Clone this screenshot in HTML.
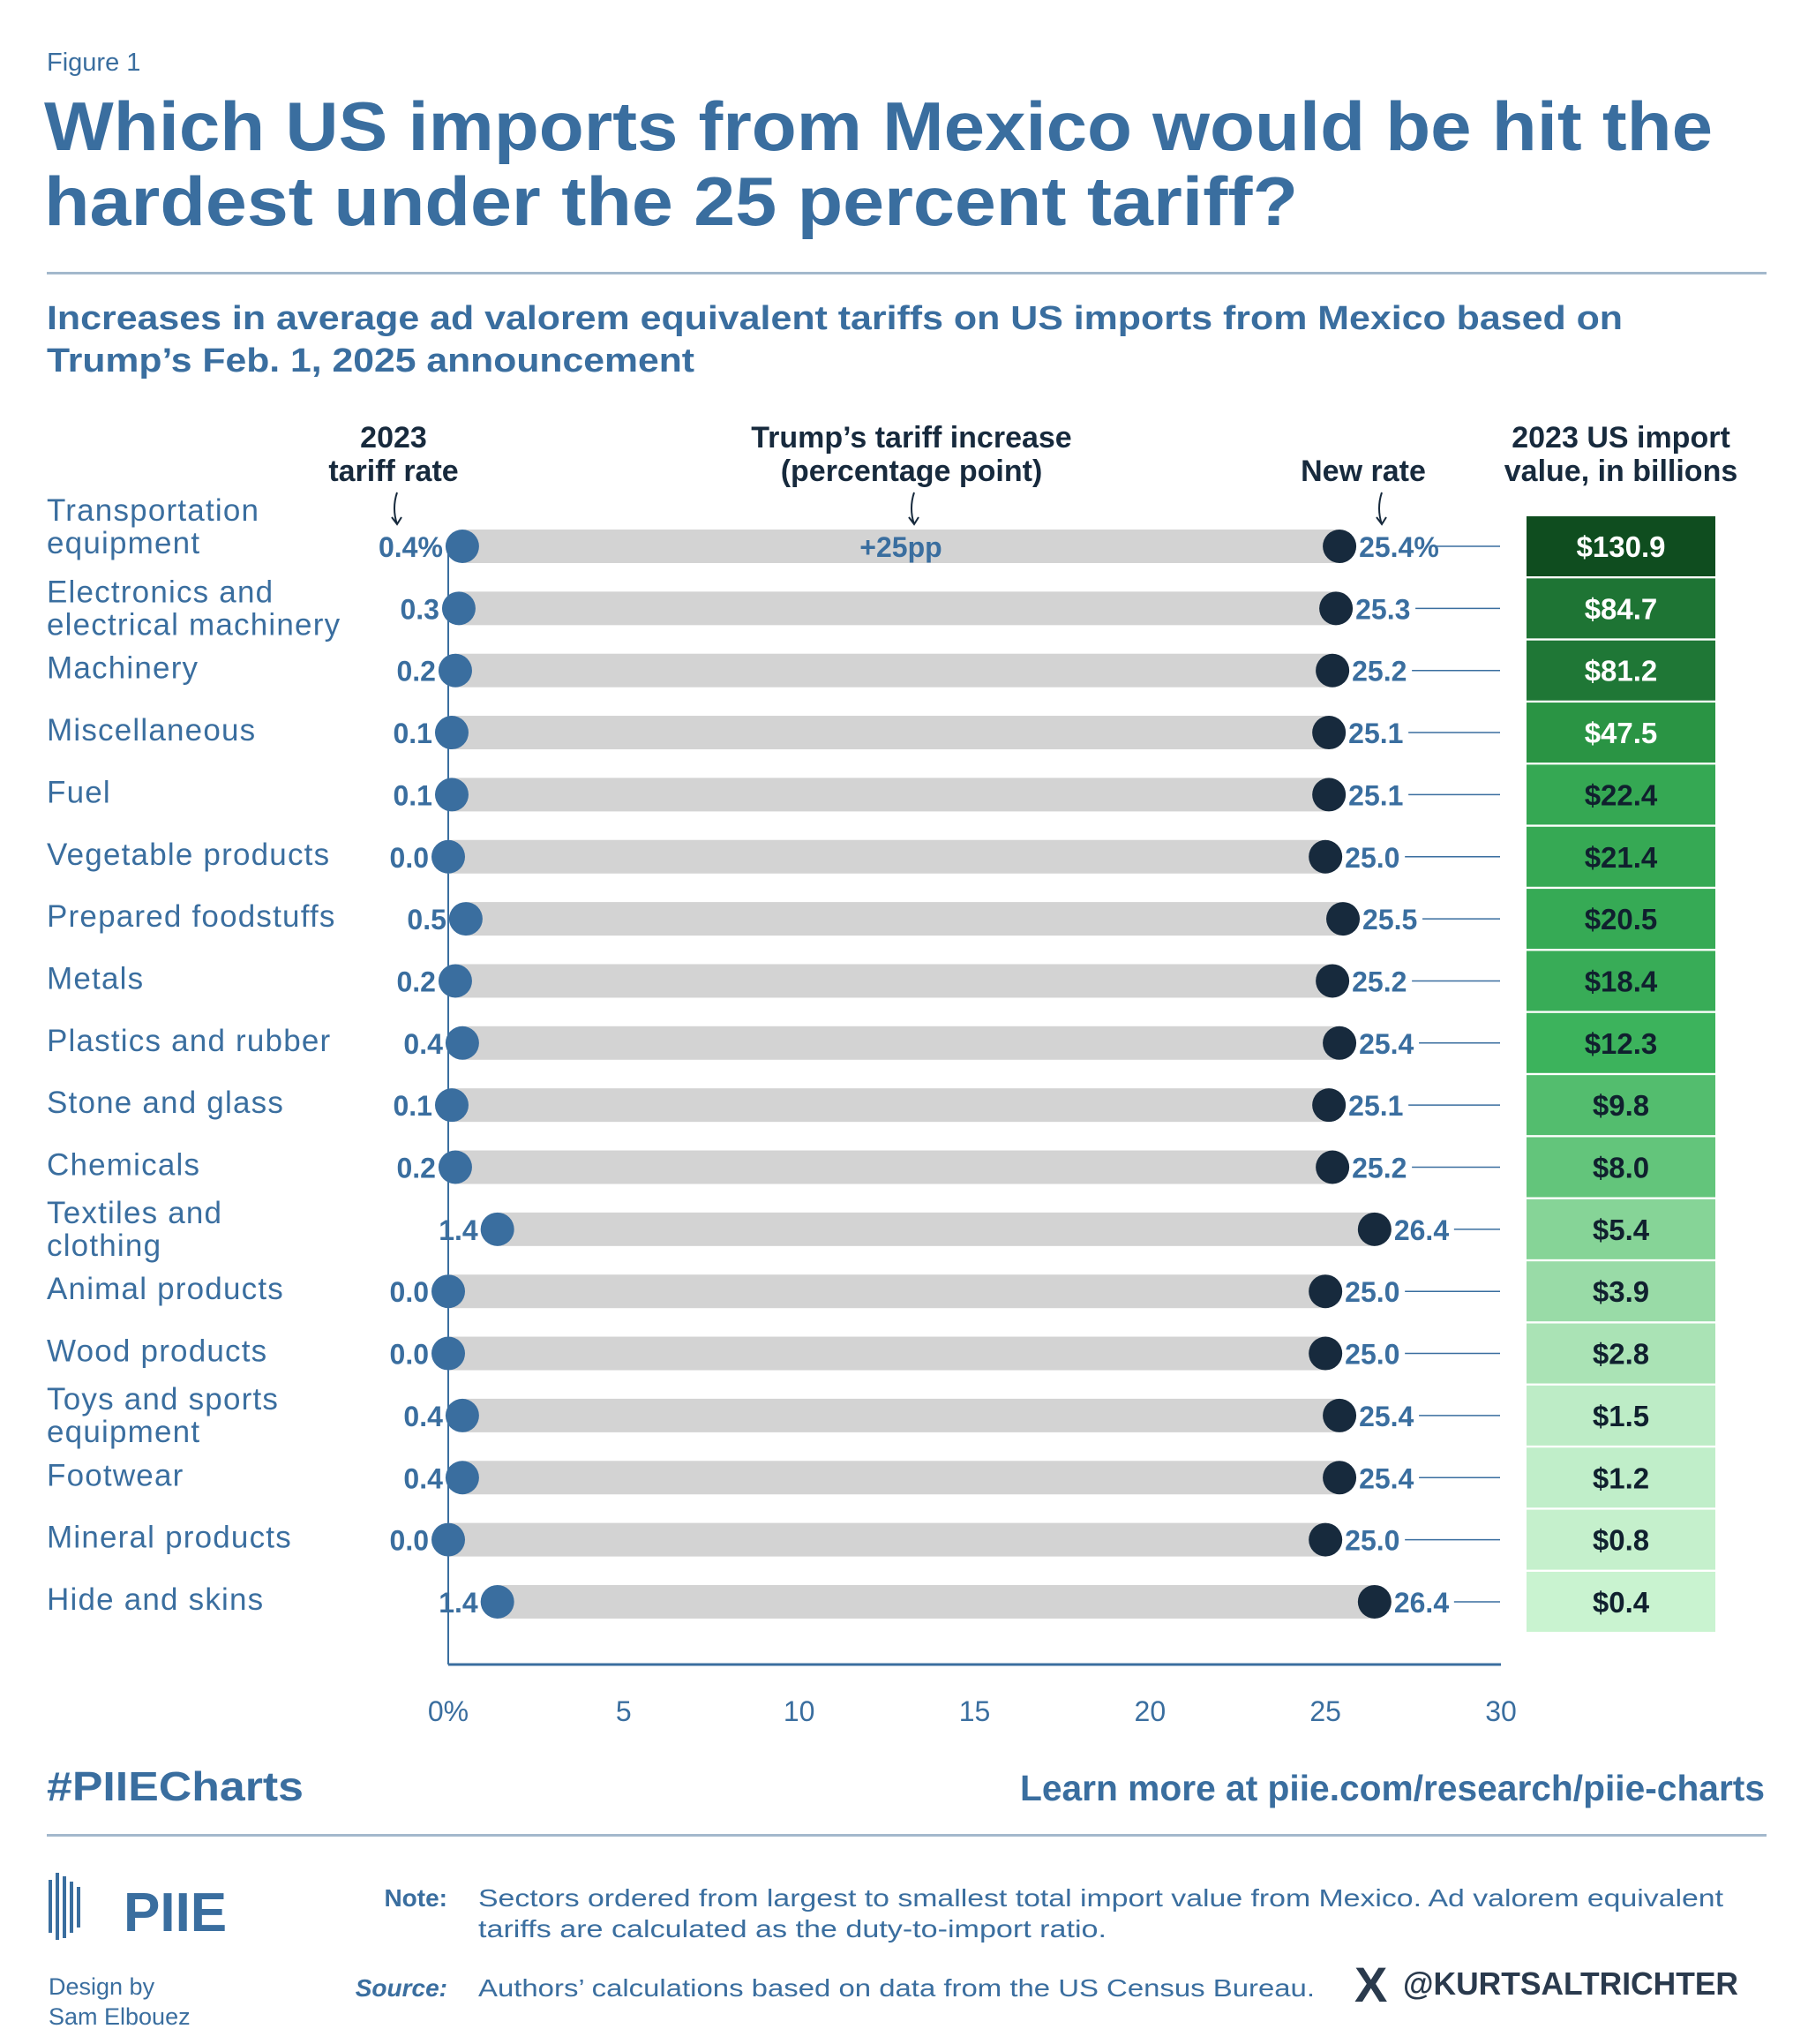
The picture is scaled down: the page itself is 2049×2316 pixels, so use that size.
<!DOCTYPE html>
<html><head><meta charset="utf-8"><style>
html,body{margin:0;padding:0;background:#fff;}
svg{display:block;font-family:"Liberation Sans",sans-serif;}
</style></head><body>
<svg id="chart" width="2049" height="2316" viewBox="0 0 2049 2316" xmlns="http://www.w3.org/2000/svg">
<text x="53" y="80" font-size="29" fill="#3a6e9f">Figure 1</text>
<text x="50" y="170" font-size="78" font-weight="bold" fill="#3a6e9f" textLength="1891" lengthAdjust="spacingAndGlyphs">Which US imports from Mexico would be hit the</text>
<text x="50" y="255" font-size="78" font-weight="bold" fill="#3a6e9f" textLength="1421" lengthAdjust="spacingAndGlyphs">hardest under the 25 percent tariff?</text>
<rect x="53" y="308" width="1949" height="3" fill="#a3b8cc"/>
<text x="53" y="373" font-size="38" font-weight="bold" fill="#3a6e9f" textLength="1786" lengthAdjust="spacingAndGlyphs">Increases in average ad valorem equivalent tariffs on US imports from Mexico based on</text>
<text x="53" y="421" font-size="38" font-weight="bold" fill="#3a6e9f" textLength="734" lengthAdjust="spacingAndGlyphs">Trump’s Feb. 1, 2025 announcement</text>
<g font-size="34" font-weight="bold" fill="#172a3d" text-anchor="middle">
<text x="446" y="507">2023</text>
<text x="446" y="545">tariff rate</text>
<text x="1033" y="507">Trump’s tariff increase</text>
<text x="1033" y="545">(percentage point)</text>
<text x="1545" y="545">New rate</text>
<text x="1837" y="507">2023 US import</text>
<text x="1837" y="545">value, in billions</text>
</g>
<g stroke="#172a3d" stroke-width="2" fill="none">
<path d="M450 558 q-6 18 0 36 m-6 -8 l6 8 l5 -8"/>
<path d="M1036 558 q-6 18 0 36 m-6 -8 l6 8 l5 -8"/>
<path d="M1566 558 q-6 18 0 36 m-6 -8 l6 8 l5 -8"/>
</g>
<g id="plot"></g>
<text x="53" y="2040" font-size="46" font-weight="bold" fill="#3a6e9f" textLength="291" lengthAdjust="spacingAndGlyphs">#PIIECharts</text>
<text x="1156" y="2040" font-size="41" font-weight="bold" fill="#3a6e9f" textLength="844" lengthAdjust="spacingAndGlyphs">Learn more at piie.com/research/piie-charts</text>
<rect x="53" y="2078" width="1949" height="3" fill="#a3b8cc"/>
<g fill="#3a6e9f">
<rect x="55" y="2130" width="4" height="60"/><rect x="63" y="2122" width="4" height="76"/><rect x="71" y="2126" width="4" height="70"/><rect x="79" y="2132" width="4" height="58"/><rect x="87" y="2138" width="4" height="46"/>
<text x="140" y="2188" font-size="62" font-weight="bold">PIIE</text>
</g>
<text x="55" y="2260" font-size="27" fill="#3a6e9f">Design by</text>
<text x="55" y="2294" font-size="27" fill="#3a6e9f">Sam Elbouez</text>
<text x="507" y="2160" font-size="28" font-weight="bold" fill="#3a6e9f" text-anchor="end">Note:</text>
<text x="542" y="2160" font-size="28" fill="#3a6e9f" textLength="1411" lengthAdjust="spacingAndGlyphs">Sectors ordered from largest to smallest total import value from Mexico. Ad valorem equivalent</text>
<text x="542" y="2195" font-size="28" fill="#3a6e9f" textLength="712" lengthAdjust="spacingAndGlyphs">tariffs are calculated as the duty-to-import ratio.</text>
<text x="507" y="2262" font-size="28" font-weight="bold" font-style="italic" fill="#3a6e9f" text-anchor="end">Source:</text>
<text x="542" y="2262" font-size="28" fill="#3a6e9f" textLength="948" lengthAdjust="spacingAndGlyphs">Authors’ calculations based on data from the US Census Bureau.</text>
<text x="1535" y="2268" font-size="56" font-weight="bold" fill="#2a3a4d">X</text>
<text x="1590" y="2260" font-size="36" font-weight="bold" fill="#2a3a4d" textLength="380" lengthAdjust="spacingAndGlyphs">@KURTSALTRICHTER</text>
</svg>
<script>
const categories=["Transportation equipment","Electronics and electrical machinery","Machinery","Miscellaneous","Fuel","Vegetable products","Prepared foodstuffs","Metals","Plastics and rubber","Stone and glass","Chemicals","Textiles and clothing","Animal products","Wood products","Toys and sports equipment","Footwear","Mineral products","Hide and skins"];
const labelLines=[["Transportation","equipment"],["Electronics and","electrical machinery"],["Machinery"],["Miscellaneous"],["Fuel"],["Vegetable products"],["Prepared foodstuffs"],["Metals"],["Plastics and rubber"],["Stone and glass"],["Chemicals"],["Textiles and","clothing"],["Animal products"],["Wood products"],["Toys and sports","equipment"],["Footwear"],["Mineral products"],["Hide and skins"]];
const rate2023=[0.4,0.3,0.2,0.1,0.1,0.0,0.5,0.2,0.4,0.1,0.2,1.4,0.0,0.0,0.4,0.4,0.0,1.4];
const increase=[25,25,25,25,25,25,25,25,25,25,25,25,25,25,25,25,25,25];
const importValue=[130.9,84.7,81.2,47.5,22.4,21.4,20.5,18.4,12.3,9.8,8.0,5.4,3.9,2.8,1.5,1.2,0.8,0.4];
const xTicks=[0,5,10,15,20,25,30];
const NS="http://www.w3.org/2000/svg";
const g=document.getElementById('plot');
const x=v=>508+v*(1701-508)/30;
const y=i=>619+i*70.35;
function mk(t,a,txt){const e=document.createElementNS(NS,t);for(const k in a)e.setAttribute(k,a[k]);if(txt!==undefined)e.textContent=txt;g.appendChild(e);return e;}
function green(v){const stops=[[0.4,[201,243,208]],[1.5,[189,236,198]],[3.9,[153,219,167]],[5.4,[134,212,151]],[8,[99,197,123]],[12.3,[60,179,92]],[22.4,[53,168,83]],[47.5,[42,148,68]],[84.7,[30,116,52]],[130.9,[15,77,31]]];
 for(let k=1;k<stops.length;k++){if(v<=stops[k][0]){const a=stops[k-1],b=stops[k];const t=(v-a[0])/(b[0]-a[0]);return 'rgb('+a[1].map((c,j)=>Math.round(c+(b[1][j]-c)*t)).join(',')+')';}}
 return 'rgb(15,77,31)';}
let e;
e=mk('line',{x1:x(0),y1:y(0),x2:x(0),y2:1886,stroke:'#3a6e9f','stroke-width':2});


e=mk('line',{x1:x(0),y1:1886,x2:x(30),y2:1886,stroke:'#3a6e9f','stroke-width':3});


xTicks.forEach(t=>{
 e=mk('text',{x:x(t),y:1950,'font-size':32,fill:'#3a6e9f','text-anchor':'middle'},t===0?'0%':String(t));
 
 
});
categories.forEach((c,i)=>{
 const cy=y(i),a=rate2023[i],b=a+increase[i];
 const lines=labelLines[i];
 lines.forEach((ln,k)=>{
  const off=i===0?-29:-7;
  const ty=lines.length===1?cy+9:cy+off+k*37;
  e=mk('text',{x:53,y:ty,'font-size':35,'letter-spacing':'1.2',fill:'#3a6e9f'},ln);
  
  
 });
 e=mk('rect',{x:x(a),y:cy-19,width:x(b)-x(a),height:38,fill:'#d3d3d3'});
 
 
 e=mk('circle',{cx:x(a),cy:cy,r:19,fill:'#3a6e9f'});
 
 
 e=mk('circle',{cx:x(b),cy:cy,r:19,fill:'#172a3d'});
 
 
 e=mk('text',{x:x(a)-22,y:cy+12,'font-size':32,'font-weight':'bold',fill:'#3a6e9f','text-anchor':'end'},a.toFixed(1)+(i===0?'%':''));
 
 
 const rl=b.toFixed(1)+(i===0?'%':'');
 e=mk('text',{x:x(b)+22,y:cy+12,'font-size':32,'font-weight':'bold',fill:'#3a6e9f'},rl);
 
 
 const tx=x(b)+22+rl.length*17;
 e=mk('line',{x1:tx,y1:cy,x2:1700,y2:cy,stroke:'#3a6e9f','stroke-width':1.5});
 
 
 e=mk('rect',{x:1730,y:cy-34,width:214,height:68,fill:green(importValue[i])});
 
 
 e=mk('text',{x:1837,y:cy+12,'font-size':33,'font-weight':'bold','text-anchor':'middle',fill:importValue[i]>=40?'#ffffff':'#10202e'},'$'+importValue[i].toFixed(1));
 
 
});
e=mk('text',{x:(x(rate2023[0])+x(rate2023[0]+increase[0]))/2,y:y(0)+12,'font-size':32,'font-weight':'bold',fill:'#3a6e9f','text-anchor':'middle'},'+25pp');


</script>
</body></html>
